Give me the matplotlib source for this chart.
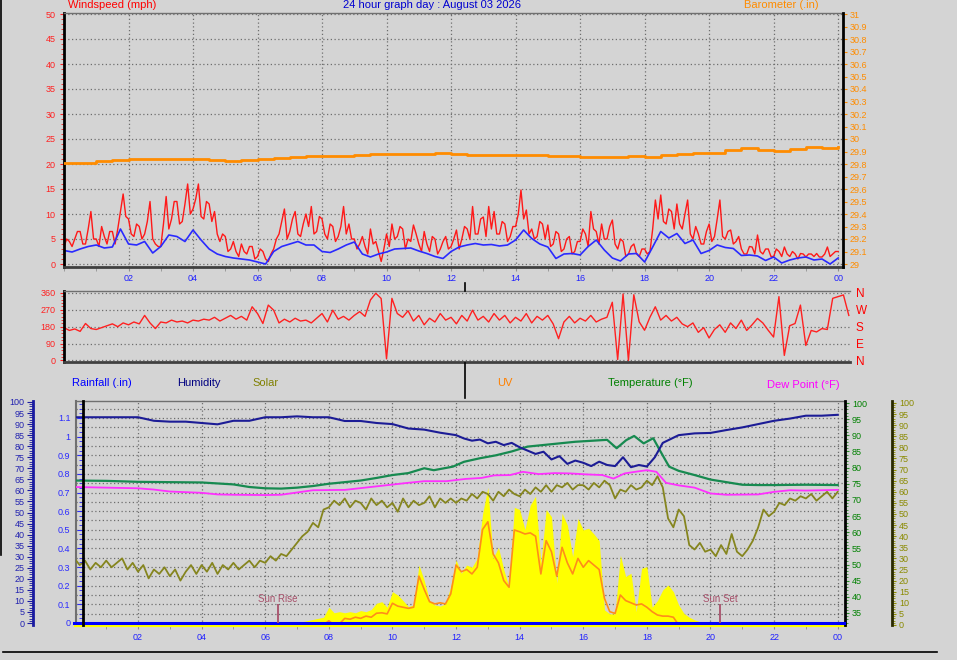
import numpy as np
import matplotlib
matplotlib.use("Agg")
import matplotlib.pyplot as plt
from matplotlib.ticker import MultipleLocator, FixedLocator, FuncFormatter, NullFormatter
from matplotlib.lines import Line2D

plt.rcParams["font.family"] = ["Liberation Sans", "DejaVu Sans"]

# ---- data -------------------------------------------------------------
# wind gust (mph), one value every 5 minutes from 00:00 (one row per hour)
gust = [
    3.5, 5.0, 4.5, 3.5, 5.0, 6.5, 6.5, 4.0, 4.0, 7.0, 10.5, 5.0,
    5.0, 3.5, 7.5, 5.5, 4.0, 6.5, 6.5, 4.0, 7.0, 10.5, 14.0, 9.5,
    9.0, 6.0, 5.5, 8.0, 7.5, 5.0, 6.0, 8.5, 12.5, 5.0, 4.0, 3.5,
    3.5, 8.0, 13.5, 7.0, 9.0, 12.5, 12.5, 8.0, 8.5, 12.0, 16.0, 10.0,
    11.0, 13.0, 16.0, 9.5, 9.0, 12.5, 12.0, 8.5, 10.5, 6.0, 4.5, 6.0,
    5.5, 2.5, 3.0, 4.5, 2.5, 1.5, 4.0, 2.5, 2.0, 3.5, 3.5, 1.0,
    1.5, 3.0, 2.5, 1.0, 0.5, 2.0, 3.0, 5.0, 6.0, 8.5, 11.0, 5.0,
    6.5, 9.0, 10.5, 6.0, 5.5, 8.0, 10.0, 7.5, 11.5, 6.0, 6.5, 9.5,
    9.0, 6.0, 5.0, 8.0, 7.5, 4.5, 5.5, 7.5, 11.5, 6.0, 8.0, 5.0,
    5.0, 3.0, 4.0, 5.5, 3.5, 2.0, 7.0, 4.0, 4.5, 2.5, 0.5, 3.0,
    6.0, 3.5, 8.0, 5.0, 5.5, 7.5, 7.0, 3.0, 5.0, 4.5, 7.8, 6.0,
    4.0, 2.5, 6.5, 4.0, 2.5, 5.5, 5.0, 2.0, 3.0, 4.5, 5.5, 3.0,
    3.5, 5.0, 6.8, 3.0, 5.0, 7.5, 7.0, 5.0, 11.5, 6.0, 6.0, 9.0,
    9.4, 5.5, 11.5, 7.0, 10.5, 6.0, 6.0, 8.5, 8.0, 4.5, 5.5, 7.5,
    7.5, 10.0, 14.8, 9.0, 10.8, 6.0, 7.0, 5.0, 5.5, 8.5, 8.0, 5.0,
    7.8, 3.5, 4.0, 6.5, 6.0, 2.5, 3.0, 5.0, 5.5, 2.0, 2.5, 4.5,
    4.5, 7.0, 6.0, 3.5, 10.5, 7.0, 6.5, 4.0, 8.0, 5.0, 5.0, 7.5,
    8.8, 4.0, 3.0, 5.0, 4.5, 1.5, 2.0, 3.5, 4.0, 2.0, 1.5, 3.0,
    3.0, 2.0, 2.5, 7.0, 12.8, 9.0, 13.8, 8.5, 8.0, 11.0, 10.5, 7.0,
    12.0, 8.0, 7.0, 10.0, 12.8, 6.0, 5.0, 7.5, 6.0, 4.0, 4.0, 6.5,
    8.0, 4.5, 5.5, 9.0, 12.8, 5.5, 5.0, 6.5, 6.8, 4.0, 4.5, 5.5,
    3.0, 2.0, 2.0, 3.5, 3.4, 2.0, 5.8, 2.5, 2.0, 3.0, 3.0, 1.5,
    1.5, 3.0, 2.5, 1.5, 3.4, 2.0, 1.5, 2.5, 2.0, 1.0, 2.1, 2.0,
    1.4, 2.0, 2.0, 1.5, 2.1, 1.4, 1.4, 2.0, 3.4, 1.5, 2.0, 2.5,
    2.5,
]
# average wind speed (mph), every 15 minutes
wind_avg = [
    2.7, 2.4, 3.0, 3.5, 3.8, 3.2, 3.4, 7.0,
    4.0, 3.8, 4.5, 2.2, 3.5, 5.8, 5.5, 4.5,
    6.8, 4.8, 3.0, 2.0, 1.5, 1.2, 1.0, 0.8,
    0.4, 0.0, 2.5, 3.5, 4.0, 4.5, 3.8, 3.8,
    2.5, 2.3, 3.0, 3.8, 4.4, 2.0, 1.4, 2.0,
    2.4, 3.0, 3.1, 3.2, 2.6, 2.1, 1.5, 1.1,
    2.5, 3.4, 3.8, 4.1, 3.8, 3.9, 3.6, 3.8,
    4.8, 6.8, 5.1, 4.0, 3.4, 1.1, 2.0, 2.1,
    1.8, 3.5, 4.8, 2.8, 1.2, 0.6, 2.0, 2.1,
    0.4, 3.4, 6.5, 5.2, 6.1, 4.1, 4.8, 2.1,
    2.7, 3.8, 3.3, 3.1, 1.7, 1.8, 1.6, 0.7,
    1.4, 0.2, 0.8, 1.2, 1.4, 0.8, 1.0, 0.0,
    1.2,
]
baro_hours = [0, 0.5, 1, 1.5, 2, 3, 4, 4.5, 5, 5.5, 6, 6.5, 7, 7.5, 8, 8.5,
              9, 9.5, 10, 10.5, 11, 11.5, 12, 12.5, 13, 13.5, 14, 14.5, 15,
              15.5, 16, 16.5, 17, 17.5, 18, 18.5, 19, 19.5, 20, 20.5, 21,
              21.5, 22, 22.5, 23, 23.5, 24]
baro = [29.808, 29.808, 29.824, 29.832, 29.840, 29.840, 29.840, 29.832, 29.824,
        29.832, 29.840, 29.848, 29.856, 29.864, 29.864, 29.864, 29.872, 29.878,
        29.878, 29.884, 29.884, 29.892, 29.880, 29.876, 29.876, 29.876, 29.872,
        29.872, 29.864, 29.864, 29.856, 29.856, 29.856, 29.864, 29.860, 29.872,
        29.880, 29.892, 29.892, 29.912, 29.932, 29.912, 29.904, 29.920, 29.940,
        29.932, 29.940]
# wind direction (degrees), every 10 minutes
wind_dir = [
    175, 160, 168, 155, 197, 170, 165, 175, 185, 195, 180, 200,
    190, 205, 195, 240, 200, 170, 205, 200, 215, 205, 210, 200,
    215, 210, 220, 215, 230, 210, 225, 240, 220, 235, 215, 286,
    250, 197, 295, 268, 200, 220, 205, 225, 210, 215, 200, 225,
    250, 205, 268, 220, 235, 215, 240, 260, 235, 322, 358, 330,
    9, 331, 250, 230, 265, 210, 240, 190, 225, 205, 250, 215,
    230, 195, 240, 210, 268, 215, 235, 205, 250, 215, 240, 200,
    230, 210, 250, 200, 235, 215, 240, 195, 116, 205, 235, 200,
    225, 210, 240, 205, 220, 230, 310, 5, 354, 0, 350, 206,
    161, 230, 286, 215, 240, 210, 230, 195, 180, 200, 150, 175,
    120, 165, 190, 150, 200, 170, 215, 160, 190, 224, 200, 161,
    125, 340, 27, 185, 197, 295, 80, 160, 152, 170, 165, 331,
    340, 349, 240,
]
hum_hours = [0, 0.5, 1, 1.5, 2, 2.5, 3, 3.5, 4, 4.5, 5, 5.5, 6, 6.5, 7, 7.5, 8,
             8.5, 9, 9.5, 10, 10.5, 11, 11.5, 12, 12.25, 12.5, 12.75, 13, 13.25,
             13.5, 13.75, 14, 14.25, 14.5, 14.75, 15, 15.25, 15.5, 15.75, 16,
             16.25, 16.5, 16.75, 17, 17.25, 17.5, 17.75, 18, 18.25, 18.5, 19,
             19.5, 20, 20.5, 21, 21.5, 22, 22.5, 23, 23.5, 24]
humidity = [93.1, 93.1, 93.1, 93.1, 93.1, 91.5, 91.1, 91.1, 90.5, 89.9, 91.5,
            91.5, 93.1, 93.1, 93.5, 93.1, 93.1, 91.4, 91.4, 90.5, 90.0, 88.0,
            87.5, 86.1, 85.0, 83.5, 82.5, 83.0, 81.3, 82.0, 80.5, 81.5, 79.5,
            78.0, 76.5, 77.5, 74.0, 75.5, 72.0, 73.5, 72.5, 71.0, 73.0, 71.5,
            71.0, 75.0, 70.5, 71.5, 70.8, 75.0, 81.5, 85.0, 85.8, 86.0, 87.3,
            88.5, 90.0, 91.5, 92.5, 93.8, 93.8, 94.2]
temp_hours = [0, 1, 2, 3, 4, 5, 5.5, 6, 6.5, 7, 7.5, 8, 8.5, 9, 9.5, 10, 10.5,
              11, 11.3, 11.9, 12.25, 12.75, 13.25, 13.75, 14.25, 14.75, 15.25,
              15.75, 16.25, 16.75, 17.05, 17.35, 17.6, 17.9, 18.2, 18.4, 18.7,
              19, 19.5, 20, 20.5, 21, 21.5, 22, 23, 24]
temperature = [76.0, 75.9, 75.6, 75.5, 75.4, 74.8, 74.0, 73.6, 73.5, 73.8, 74.3,
               75.0, 75.5, 76.0, 76.8, 77.7, 78.3, 79.8, 79.2, 80.3, 81.8, 82.9,
               83.8, 85.0, 86.5, 87.0, 87.5, 88.0, 88.3, 88.6, 86.0, 88.5, 89.8,
               87.5, 89.1, 85.5, 80.3, 79.0, 77.7, 76.3, 75.5, 74.7, 74.6, 74.6,
               74.7, 74.6]
dew_hours = [0, 1, 2, 2.5, 3, 4, 4.5, 5, 6, 6.5, 7, 7.5, 8.5, 9.5, 10.5, 11,
             11.7, 12.3, 12.8, 13.2, 13.7, 14.1, 14.6, 15.1, 15.6, 16.1, 16.6,
             16.95, 17.3, 17.7, 18.0, 18.3, 18.6, 19.0, 19.5, 20.0, 20.5, 21.5,
             22.0, 22.5, 23.0, 24.0]
dew_point = [74.0, 73.8, 73.6, 73.2, 72.6, 72.2, 71.7, 71.6, 71.5, 71.6, 72.3,
             73.0, 73.1, 74.2, 75.3, 75.8, 75.8, 76.5, 76.8, 77.6, 77.7, 78.7,
             78.0, 78.3, 78.2, 77.9, 77.7, 76.6, 78.2, 78.8, 79.2, 78.7, 75.3,
             74.5, 73.8, 72.0, 71.6, 71.7, 72.5, 73.0, 72.9, 73.1]
# solar line (olive), every 10 minutes (one row per hour)
solar_line = [
    30, 27, 29, 25, 28, 26,
    29, 26, 28, 30, 25, 28,
    24, 27, 21, 25, 23, 26,
    22, 25, 20, 24, 27, 23,
    27, 24, 28, 23, 27, 25,
    28, 25, 27, 29, 26, 29,
    28, 31, 29, 32, 31, 34,
    37, 40, 42, 46, 44, 52,
    53, 56, 54, 57, 53, 56,
    55, 52, 57, 54, 56, 53,
    55, 51, 57, 53, 56, 54,
    55, 58, 53, 57, 55, 57,
    55, 57, 56, 59, 57, 60,
    59, 56, 60, 58, 61, 59,
    58, 61, 59, 62, 60, 63,
    60, 63, 62, 64, 61, 63,
    63, 61, 64, 62, 65, 63,
    57, 61, 60, 63, 61, 62,
    65, 63, 67, 62, 48, 44,
    52, 49, 36, 34, 37, 33,
    34, 31, 36, 32, 41, 33,
    31, 34, 38, 44, 52, 49,
    51, 55, 54, 57, 56, 58,
    57, 59, 56, 58, 60, 57,
    60,
]
# solar radiation (yellow area) and UV, every 10 minutes from 06:30
day_start = 6.5
solar_fill = [
    0, 0, 0.5, 1.0, 1.5, 2.0, 2.5, 3.0, 3.5,
    8.0, 5.5, 6.0, 5.5, 6.0, 5.5, 6.5, 6.0, 7.0, 9.8, 10.5, 8.0,
    15.0, 13.5, 11.0, 8.3, 9.0, 27.0, 20.0, 11.0, 9.0, 8.5, 9.5, 17.3,
    29.3, 23.3, 27.0, 26.0, 30.0, 50.0, 62.0, 30.0, 35.0, 25.0, 17.0, 53.0,
    52.0, 43.0, 54.0, 58.0, 27.7, 52.0, 48.8, 18.8, 50.3, 45.0, 30.8, 48.0,
    42.8, 43.6, 41.0, 38.0, 6.8, 5.0, 5.0, 31.5, 21.8, 23.3, 6.0, 25.5,
    26.3, 8.0, 11.0, 15.8, 18.0, 15.0, 9.0, 5.2, 3.5, 2.3, 1.5, 0.8,
    0,
]
uv = [
    0, 0, 0, 0, 0, 0, 0, 0, 0,
    1.9, 0, 0.5, 3.0, 2.6, 3.5, 3.0, 4.0, 3.5, 5.3, 5.5, 5.0,
    9.8, 8.5, 8.0, 7.5, 8.0, 22.0, 16.0, 10.5, 9.5, 10.0, 9.5, 14.0,
    27.0, 24.0, 25.0, 23.0, 26.0, 43.0, 46.5, 32.0, 28.0, 20.0, 17.0, 42.8,
    42.0, 41.0, 41.5, 40.0, 23.0, 38.0, 33.0, 22.0, 35.0, 28.0, 23.0, 30.0,
    26.0, 29.0, 27.0, 25.0, 12.0, 6.0, 5.2, 13.5, 11.0, 10.0, 9.0, 9.5,
    8.0, 6.0, 4.5, 4.0, 4.0, 3.5, 0, 0, 0, 0, 0, 0,
    0,
]
rain_hours = [0, 24.2]
rainfall = [0.0, 0.0]
sun_rise, sun_set = 6.40, 20.30

hour_ticks = [2, 4, 6, 8, 10, 12, 14, 16, 18, 20, 22, 24]
hour_labels = ["02", "04", "06", "08", "10", "12", "14", "16", "18", "20", "22", "00"]
compass_ticks = [0, 90, 180, 270, 360]
compass_labels = ["N", "E", "S", "W", "N"]

# ---- figure -----------------------------------------------------------
BG = "#d4d4d4"
W, H = 957, 660
fig = plt.figure(figsize=(W / 100, H / 100), dpi=100, facecolor=BG)


def rect(l, t, r, b):
    return [l / W, 1 - b / H, (r - l) / W, (b - t) / H]


def spines(ax, **kw):
    for name, sp in ax.spines.items():
        if name in kw and kw[name] is not None:
            sp.set_visible(True)
            sp.set_color(kw[name][0])
            sp.set_linewidth(kw[name][1])
        else:
            sp.set_visible(False)


GRID = dict(linestyle=(0, (1, 2)), color="#6e6e6e", linewidth=0.9)
FS = 6.5

# top panel: wind speed + barometer
ax1 = fig.add_axes(rect(64, 13, 843, 267))
ax1.set_facecolor(BG)
ax1.plot(np.arange(len(gust)) / 12, gust, color="#ff1818", lw=1.0)
ax1.plot(np.arange(len(wind_avg)) / 4, wind_avg, color="#2a2aff", lw=1.2)
ax1.set_xlim(0, 24.15)
ax1.set_ylim(-0.6, 50.2)
ax1.xaxis.set_major_locator(FixedLocator(hour_ticks))
ax1.set_xticklabels(hour_labels)
ax1.xaxis.set_minor_locator(MultipleLocator(1))
ax1.yaxis.set_major_locator(MultipleLocator(5))
ax1.yaxis.set_minor_locator(MultipleLocator(1))
ax1.tick_params(axis="x", which="both", colors="#909090", labelcolor="#2020ff",
                labelsize=FS, length=3, pad=2)
ax1.tick_params(axis="y", which="both", colors="#ff2020", labelcolor="#ff2020",
                labelsize=FS, length=3, pad=3)
ax1.tick_params(axis="y", which="minor", length=2)
ax1.grid(True, which="major", **GRID)
spines(ax1, top=("#707070", 1), left=("black", 2), bottom=("#404040", 2))

ax1b = ax1.twinx()
ax1b.plot(baro_hours, baro, color="#ff8c00", lw=2, drawstyle="steps-post")
ax1b.set_ylim(28.976, 31.008)
ax1b.yaxis.set_major_locator(MultipleLocator(0.1))
ax1b.yaxis.set_major_formatter(FuncFormatter(lambda v, p: f"{round(v, 1):g}"))
ax1b.tick_params(axis="y", colors="#ff8c00", labelcolor="#ff8c00",
                 labelsize=FS, length=3, pad=2)
spines(ax1b, right=("black", 2))

# middle panel: wind direction
ax2 = fig.add_axes(rect(64, 291, 850, 362))
ax2.set_facecolor(BG)
ax2.plot(np.arange(len(wind_dir)) / 6, wind_dir, color="#ff2020", lw=1)
ax2.set_xlim(0, 24.37)
ax2.set_ylim(-8, 370)
ax2.set_xticks([])
ax2.yaxis.set_major_locator(FixedLocator(compass_ticks))
ax2.yaxis.set_minor_locator(MultipleLocator(18))
ax2.tick_params(axis="y", which="both", colors="#ff2020", labelcolor="#ff2020",
                labelsize=FS, length=3, pad=3)
ax2.tick_params(axis="y", which="minor", length=2)
ax2.grid(True, axis="y", which="major", **GRID)
spines(ax2, top=("#707070", 1), left=("black", 2), bottom=("#404040", 2))

ax2b = ax2.twinx()
ax2b.set_ylim(-8, 370)
ax2b.yaxis.set_major_locator(FixedLocator(compass_ticks))
ax2b.set_yticklabels(compass_labels)
ax2b.tick_params(axis="y", length=0, labelcolor="#ff0000", labelsize=8.5, pad=4)
for lab in ax2b.get_yticklabels():
    lab.set_color("#ff0000")
spines(ax2b)

# bottom panel
bl, bt, br, bb = 76, 401, 845, 625
ax3 = fig.add_axes(rect(bl, bt, br, bb))
ax3.set_facecolor(BG)
ax3.set_xlim(0.05, 24.23)
ax3.set_ylim(-0.011, 1.191)
ax3.xaxis.set_major_locator(FixedLocator(hour_ticks))
ax3.set_xticklabels(hour_labels)
ax3.xaxis.set_minor_locator(MultipleLocator(1))
ax3.yaxis.set_major_locator(MultipleLocator(0.05))
ax3.yaxis.set_major_formatter(NullFormatter())
ax3.tick_params(axis="y", length=0)
ax3.tick_params(axis="x", which="both", colors="#909090", labelcolor="#2020ff",
                labelsize=FS, length=3, pad=3)
ax3.grid(True, which="major", **GRID)
spines(ax3, top=("#707070", 1), left=("#707070", 1.5), bottom=("#404040", 2))

# solar axis (far right)
ax_sol = ax3.twinx()
ax_sol.set_ylim(0, 100.9)
ax_sol.fill_between(day_start + np.arange(len(solar_fill)) / 6, solar_fill,
                    color="#ffff00", lw=0, zorder=1)
ax_sol.axhline(0, color="#ffff00", lw=3, clip_on=False, zorder=1)
ax_sol.plot(day_start + np.arange(len(uv)) / 6, uv, color="#ff8c1a", lw=1.2, zorder=2)
ax_sol.plot(np.arange(len(solar_line)) / 6, solar_line, color="#85851e", lw=1.3, zorder=3)
ax_sol.spines["right"].set_position(("axes", 1 + 47 / (br - bl)))
ax_sol.yaxis.set_major_locator(MultipleLocator(5))
ax_sol.yaxis.set_minor_locator(MultipleLocator(1))
ax_sol.tick_params(axis="y", which="both", colors="#909000", labelcolor="#8a8a00",
                   labelsize=FS, length=3, pad=2)
ax_sol.tick_params(axis="y", which="minor", length=2)
spines(ax_sol, right=("#2a2a00", 2))

# temperature / dew point axis (right)
ax_temp = ax3.twinx()
ax_temp.set_ylim(31.28, 100.62)
ax_temp.plot(temp_hours, temperature, color="#178a50", lw=1.6)
ax_temp.plot(dew_hours, dew_point, color="#ff30ff", lw=1.3)
ax_temp.yaxis.set_major_locator(FixedLocator(list(range(35, 101, 5))))
ax_temp.yaxis.set_minor_locator(MultipleLocator(1))
ax_temp.tick_params(axis="y", which="both", colors="#2a8a2a", labelcolor="#008000",
                    labelsize=FS, length=3, pad=2)
ax_temp.tick_params(axis="y", which="minor", length=2)
spines(ax_temp, right=("black", 2))

# humidity axis (far left)
ax_hum = ax3.twinx()
ax_hum.set_ylim(-0.9, 100.45)
ax_hum.plot(hum_hours, humidity, color="#1c1c96", lw=1.5)
ax_hum.yaxis.set_ticks_position("left")
ax_hum.yaxis.set_label_position("left")
ax_hum.spines["left"].set_position(("axes", -43 / (br - bl)))
ax_hum.yaxis.set_major_locator(MultipleLocator(5))
ax_hum.yaxis.set_minor_locator(MultipleLocator(1))
ax_hum.tick_params(axis="y", which="both", colors="#1a1aa0", labelcolor="#2222b0",
                   labelsize=FS, length=4, pad=2)
ax_hum.tick_params(axis="y", which="minor", length=3)
spines(ax_hum, left=("#1a1aa0", 2))

# rainfall axis (inner left) with sunrise / sunset marks
ax_rain = ax3.twinx()
ax_rain.set_ylim(-0.011, 1.191)
ax_rain.plot(rain_hours, rainfall, color="#0000ff", lw=2.2, clip_on=False)
ax_rain.vlines([sun_rise, sun_set], 0, 0.1, color="#a8506a", lw=1.3)
ax_rain.text(sun_rise, 0.13, "Sun Rise", color="#a8506a", ha="center",
             va="center", fontsize=7)
ax_rain.text(sun_set, 0.13, "Sun Set", color="#a8506a", ha="center",
             va="center", fontsize=7)
ax_rain.yaxis.set_ticks_position("left")
ax_rain.yaxis.set_label_position("left")
ax_rain.spines["left"].set_position(("axes", 7 / (br - bl)))
ax_rain.yaxis.set_major_locator(FixedLocator([round(v * 0.1, 1) for v in range(12)]))
ax_rain.yaxis.set_major_formatter(FuncFormatter(lambda v, p: f"{v:g}"))
ax_rain.yaxis.set_minor_locator(MultipleLocator(0.025))
ax_rain.tick_params(axis="y", which="both", colors="#2a2aff", labelcolor="#2a2aff",
                    labelsize=FS, length=4, pad=5)
ax_rain.tick_params(axis="y", which="minor", length=3)
spines(ax_rain, left=("black", 2))

# ---- texts ------------------------------------------------------------
def ftext(x, y, s, color, **kw):
    fig.text(x / W, 1 - y / H, s, color=color, va="center", fontsize=8, **kw)


ftext(68, 5, "Windspeed (mph)", "#ff0000")
ftext(432, 5, "24 hour graph day : August 03 2026", "#0000d0", ha="center")
ftext(781, 5, "Barometer (.in)", "#ff8c00", ha="center")
ftext(72, 383, "Rainfall (.in)", "#0000ff")
ftext(177, 383, "Humidity", "#000080")
ftext(252, 383, "Solar", "#808000")
ftext(497, 383, "UV", "#ff8000")
ftext(608, 383, "Temperature (°F)", "#008000")
ftext(767, 385, "Dew Point (°F)", "#ff00ff")

# divider lines
for xs, ys in [((465, 465), (283, 291)), ((465, 465), (363, 398)),
               ((3, 937), (652, 652)), ((1, 1), (0, 555))]:
    fig.add_artist(Line2D([x / W for x in xs], [1 - y / H for y in ys],
                          color="black", lw=1.2))

fig.savefig("out.png", dpi=100, facecolor=BG)
